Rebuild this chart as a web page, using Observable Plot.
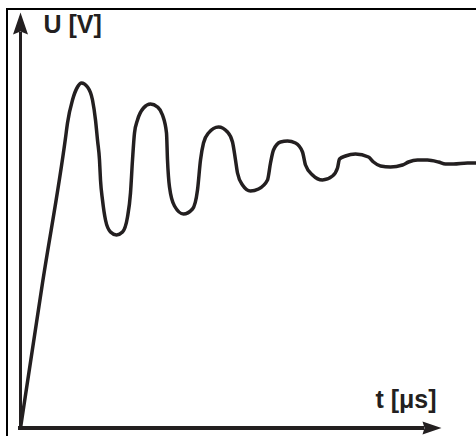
<!DOCTYPE html>
<html>
<head>
<meta charset="utf-8">
<script src="https://cdn.jsdelivr.net/npm/d3@7"></script>
<script src="https://cdn.jsdelivr.net/npm/@observablehq/plot@0.6"></script>
<style>
  html, body { margin: 0; padding: 0; background: #fff; }
  #wrap { position: relative; width: 476px; height: 436px; overflow: hidden; }
  #frame { position: absolute; left: 6px; top: 7.5px; width: 470px; height: 440px;
           border-left: 2px solid #000; border-top: 2px solid #000; box-sizing: border-box; }
  #chart { position: absolute; left: 0; top: 0; }
</style>
</head>
<body>
<div id="wrap"><div id="frame"></div><div id="chart"></div></div>
<script>
// Time (arbitrary units) and voltage (arbitrary units)
const t = [0, 22, 45, 47, 52, 57, 61, 67, 72, 75, 77, 79, 80, 82, 85, 90, 96, 102, 107, 110, 112, 114, 117, 123, 130, 137, 142, 146, 147, 149, 154, 163, 172, 177, 180, 183, 188, 198, 207, 212, 215, 217, 222, 230, 238, 247, 250, 253, 260, 267, 275, 282, 285, 292, 302, 312, 317, 319, 325, 335, 348, 353, 360, 370, 382, 388, 397, 407, 418, 425, 433, 447, 456];
const U = [0, 145, 290, 305, 328, 341, 345, 341, 328, 308, 288, 268, 248, 228, 208, 196, 193, 196, 211, 235, 268, 295, 308, 320, 324, 321, 313, 295, 268, 241, 222, 214, 219, 238, 268, 285, 295, 301, 296, 286, 268, 255, 243, 237, 239, 248, 265, 278, 286, 287, 285, 276, 263, 253, 248, 252, 260, 269, 272, 274, 271, 266, 262, 261, 263, 266, 268, 268, 266, 264, 264, 265, 265];
const axisLabels = ["U [V]", "t [μs]"];

const data = t.map((d, i) => ({t: d, U: U[i]}));
const tMax = 456, uMax = 427.5;     // scale domains
const tTip = 421, uTip = 415.5;     // arrow tips on axes

const arrowUp = {draw(ctx) { ctx.moveTo(0, 0); ctx.lineTo(-7.5, 22); ctx.lineTo(0, 19); ctx.lineTo(7.5, 22); ctx.closePath(); }};
const arrowRight = {draw(ctx) { ctx.moveTo(0, 0); ctx.lineTo(-19, -6.5); ctx.lineTo(-17, 0); ctx.lineTo(-19, 6.5); ctx.closePath(); }};

const ink = "#231f20";
const plot = Plot.plot({
  width: 476, height: 436,
  marginLeft: 20, marginRight: 0, marginTop: 0, marginBottom: 8.5,
  x: {domain: [0, tMax], axis: null},
  y: {domain: [0, uMax], axis: null},
  style: {background: "transparent"},
  marks: [
    Plot.ruleX([0], {y1: -2, y2: uTip - 20, stroke: ink, strokeWidth: 3}),
    Plot.ruleY([0], {x1: -2, x2: tTip - 17, stroke: ink, strokeWidth: 4}),
    Plot.dot([{t: 0, U: uTip}], {x: "t", y: "U", symbol: arrowUp, fill: ink, stroke: "none"}),
    Plot.dot([{t: tTip, U: 0}], {x: "t", y: "U", symbol: arrowRight, fill: ink, stroke: "none"}),
    Plot.line(data, {x: "t", y: "U", curve: "monotone-x", stroke: ink, strokeWidth: 3.5, strokeLinejoin: "round"}),
    Plot.text([axisLabels[0]], {x: 23, y: 403, text: d => d, textAnchor: "start", lineAnchor: "middle",
      fontSize: 25, fontWeight: "bold", fontFamily: "Arial, 'Liberation Sans', sans-serif", fill: ink}),
    Plot.text([axisLabels[1]], {x: 416, y: 28, text: d => d, textAnchor: "end", lineAnchor: "middle",
      fontSize: 25, fontWeight: "bold", fontFamily: "Arial, 'Liberation Sans', sans-serif", fill: ink})
  ]
});
document.getElementById("chart").appendChild(plot);
</script>
</body>
</html>
